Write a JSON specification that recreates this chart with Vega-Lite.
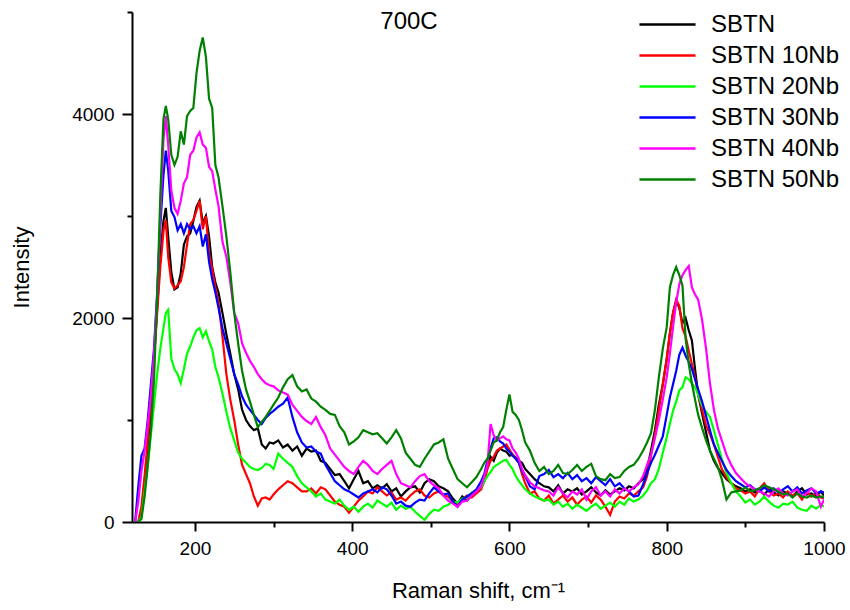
{
"$schema":"https://vega.github.io/schema/vega-lite/v6.json",
"width":692,"height":510,
"autosize":{"type":"none"},
"padding":{"left":132,"top":12,"right":26,"bottom":88},
"background":"white",
"title":{"text":"700C","font":"Liberation Sans","fontSize":24,"fontWeight":"normal","color":"black","anchor":"middle","frame":"group","offset":-31,"dx":-69},
"data":{"values":[
{"x":124,"SBTN":0,"SBTN 10Nb":0,"SBTN 20Nb":0,"SBTN 30Nb":0,"SBTN 40Nb":0,"SBTN 50Nb":0},
{"x":128,"SBTN":0,"SBTN 10Nb":0,"SBTN 20Nb":0,"SBTN 30Nb":350,"SBTN 40Nb":200,"SBTN 50Nb":0},
{"x":132,"SBTN":100,"SBTN 10Nb":150,"SBTN 20Nb":50,"SBTN 30Nb":650,"SBTN 40Nb":500,"SBTN 50Nb":30},
{"x":136,"SBTN":400,"SBTN 10Nb":450,"SBTN 20Nb":300,"SBTN 30Nb":720,"SBTN 40Nb":700,"SBTN 50Nb":250},
{"x":140,"SBTN":700,"SBTN 10Nb":800,"SBTN 20Nb":550,"SBTN 30Nb":1000,"SBTN 40Nb":950,"SBTN 50Nb":550},
{"x":144,"SBTN":1100,"SBTN 10Nb":1200,"SBTN 20Nb":850,"SBTN 30Nb":1350,"SBTN 40Nb":1250,"SBTN 50Nb":900},
{"x":148,"SBTN":1600,"SBTN 10Nb":1600,"SBTN 20Nb":1150,"SBTN 30Nb":1700,"SBTN 40Nb":1650,"SBTN 50Nb":1400},
{"x":152,"SBTN":2100,"SBTN 10Nb":2050,"SBTN 20Nb":1450,"SBTN 30Nb":2250,"SBTN 40Nb":2200,"SBTN 50Nb":2200},
{"x":156,"SBTN":2600,"SBTN 10Nb":2500,"SBTN 20Nb":1700,"SBTN 30Nb":2900,"SBTN 40Nb":3000,"SBTN 50Nb":3200},
{"x":160,"SBTN":2950,"SBTN 10Nb":2850,"SBTN 20Nb":1900,"SBTN 30Nb":3400,"SBTN 40Nb":3750,"SBTN 50Nb":3950},
{"x":163,"SBTN":3080,"SBTN 10Nb":2960,"SBTN 20Nb":2050,"SBTN 30Nb":3640,"SBTN 40Nb":3980,"SBTN 50Nb":4080},
{"x":166,"SBTN":2800,"SBTN 10Nb":2600,"SBTN 20Nb":2080,"SBTN 30Nb":3450,"SBTN 40Nb":3700,"SBTN 50Nb":3950},
{"x":170,"SBTN":2450,"SBTN 10Nb":2350,"SBTN 20Nb":1600,"SBTN 30Nb":3050,"SBTN 40Nb":3250,"SBTN 50Nb":3600},
{"x":174,"SBTN":2280,"SBTN 10Nb":2290,"SBTN 20Nb":1500,"SBTN 30Nb":2990,"SBTN 40Nb":3080,"SBTN 50Nb":3500},
{"x":178,"SBTN":2300,"SBTN 10Nb":2320,"SBTN 20Nb":1450,"SBTN 30Nb":2860,"SBTN 40Nb":3020,"SBTN 50Nb":3580},
{"x":182,"SBTN":2440,"SBTN 10Nb":2360,"SBTN 20Nb":1360,"SBTN 30Nb":2920,"SBTN 40Nb":3150,"SBTN 50Nb":3830},
{"x":186,"SBTN":2720,"SBTN 10Nb":2500,"SBTN 20Nb":1500,"SBTN 30Nb":2830,"SBTN 40Nb":3320,"SBTN 50Nb":3700},
{"x":190,"SBTN":2800,"SBTN 10Nb":2720,"SBTN 20Nb":1650,"SBTN 30Nb":2920,"SBTN 40Nb":3380,"SBTN 50Nb":3980},
{"x":194,"SBTN":2830,"SBTN 10Nb":2920,"SBTN 20Nb":1720,"SBTN 30Nb":2870,"SBTN 40Nb":3600,"SBTN 50Nb":4030},
{"x":198,"SBTN":2950,"SBTN 10Nb":2960,"SBTN 20Nb":1810,"SBTN 30Nb":2900,"SBTN 40Nb":3640,"SBTN 50Nb":4060},
{"x":202,"SBTN":3090,"SBTN 10Nb":3050,"SBTN 20Nb":1880,"SBTN 30Nb":2830,"SBTN 40Nb":3770,"SBTN 50Nb":4400},
{"x":206,"SBTN":3150,"SBTN 10Nb":3150,"SBTN 20Nb":1900,"SBTN 30Nb":2900,"SBTN 40Nb":3820,"SBTN 50Nb":4620},
{"x":210,"SBTN":2930,"SBTN 10Nb":2870,"SBTN 20Nb":1810,"SBTN 30Nb":2700,"SBTN 40Nb":3700,"SBTN 50Nb":4750},
{"x":214,"SBTN":3000,"SBTN 10Nb":3000,"SBTN 20Nb":1870,"SBTN 30Nb":2820,"SBTN 40Nb":3670,"SBTN 50Nb":4560},
{"x":218,"SBTN":2800,"SBTN 10Nb":2630,"SBTN 20Nb":1770,"SBTN 30Nb":2550,"SBTN 40Nb":3480,"SBTN 50Nb":4150},
{"x":222,"SBTN":2500,"SBTN 10Nb":2480,"SBTN 20Nb":1690,"SBTN 30Nb":2380,"SBTN 40Nb":3440,"SBTN 50Nb":4060},
{"x":226,"SBTN":2350,"SBTN 10Nb":2300,"SBTN 20Nb":1520,"SBTN 30Nb":2250,"SBTN 40Nb":3260,"SBTN 50Nb":3500},
{"x":230,"SBTN":2250,"SBTN 10Nb":2150,"SBTN 20Nb":1420,"SBTN 30Nb":2100,"SBTN 40Nb":3100,"SBTN 50Nb":3380},
{"x":235,"SBTN":2050,"SBTN 10Nb":1820,"SBTN 20Nb":1260,"SBTN 30Nb":1900,"SBTN 40Nb":2750,"SBTN 50Nb":3100},
{"x":240,"SBTN":1840,"SBTN 10Nb":1450,"SBTN 20Nb":1080,"SBTN 30Nb":1750,"SBTN 40Nb":2600,"SBTN 50Nb":2800},
{"x":245,"SBTN":1650,"SBTN 10Nb":1200,"SBTN 20Nb":920,"SBTN 30Nb":1600,"SBTN 40Nb":2350,"SBTN 50Nb":2450},
{"x":250,"SBTN":1450,"SBTN 10Nb":1000,"SBTN 20Nb":800,"SBTN 30Nb":1450,"SBTN 40Nb":2050,"SBTN 50Nb":2050},
{"x":255,"SBTN":1300,"SBTN 10Nb":760,"SBTN 20Nb":680,"SBTN 30Nb":1350,"SBTN 40Nb":1950,"SBTN 50Nb":1750},
{"x":260,"SBTN":1100,"SBTN 10Nb":560,"SBTN 20Nb":620,"SBTN 30Nb":1230,"SBTN 40Nb":1750,"SBTN 50Nb":1480},
{"x":265,"SBTN":1000,"SBTN 10Nb":470,"SBTN 20Nb":580,"SBTN 30Nb":1150,"SBTN 40Nb":1660,"SBTN 50Nb":1300},
{"x":270,"SBTN":940,"SBTN 10Nb":380,"SBTN 20Nb":540,"SBTN 30Nb":1100,"SBTN 40Nb":1580,"SBTN 50Nb":1180},
{"x":275,"SBTN":900,"SBTN 10Nb":250,"SBTN 20Nb":520,"SBTN 30Nb":1050,"SBTN 40Nb":1520,"SBTN 50Nb":1050},
{"x":280,"SBTN":920,"SBTN 10Nb":160,"SBTN 20Nb":510,"SBTN 30Nb":1000,"SBTN 40Nb":1450,"SBTN 50Nb":930},
{"x":285,"SBTN":760,"SBTN 10Nb":230,"SBTN 20Nb":530,"SBTN 30Nb":960,"SBTN 40Nb":1400,"SBTN 50Nb":980},
{"x":290,"SBTN":720,"SBTN 10Nb":240,"SBTN 20Nb":570,"SBTN 30Nb":1020,"SBTN 40Nb":1360,"SBTN 50Nb":1030},
{"x":295,"SBTN":780,"SBTN 10Nb":220,"SBTN 20Nb":560,"SBTN 30Nb":1060,"SBTN 40Nb":1340,"SBTN 50Nb":1090},
{"x":300,"SBTN":770,"SBTN 10Nb":270,"SBTN 20Nb":520,"SBTN 30Nb":1090,"SBTN 40Nb":1330,"SBTN 50Nb":1150},
{"x":306,"SBTN":800,"SBTN 10Nb":320,"SBTN 20Nb":670,"SBTN 30Nb":1130,"SBTN 40Nb":1290,"SBTN 50Nb":1220},
{"x":312,"SBTN":730,"SBTN 10Nb":360,"SBTN 20Nb":620,"SBTN 30Nb":1160,"SBTN 40Nb":1270,"SBTN 50Nb":1320},
{"x":318,"SBTN":760,"SBTN 10Nb":400,"SBTN 20Nb":580,"SBTN 30Nb":1220,"SBTN 40Nb":1250,"SBTN 50Nb":1400},
{"x":324,"SBTN":700,"SBTN 10Nb":380,"SBTN 20Nb":540,"SBTN 30Nb":1030,"SBTN 40Nb":1150,"SBTN 50Nb":1440},
{"x":330,"SBTN":740,"SBTN 10Nb":340,"SBTN 20Nb":450,"SBTN 30Nb":880,"SBTN 40Nb":1090,"SBTN 50Nb":1330},
{"x":336,"SBTN":650,"SBTN 10Nb":300,"SBTN 20Nb":380,"SBTN 30Nb":780,"SBTN 40Nb":1030,"SBTN 50Nb":1280},
{"x":342,"SBTN":720,"SBTN 10Nb":300,"SBTN 20Nb":340,"SBTN 30Nb":730,"SBTN 40Nb":990,"SBTN 50Nb":1300},
{"x":348,"SBTN":690,"SBTN 10Nb":330,"SBTN 20Nb":300,"SBTN 30Nb":740,"SBTN 40Nb":960,"SBTN 50Nb":1210},
{"x":354,"SBTN":700,"SBTN 10Nb":280,"SBTN 20Nb":250,"SBTN 30Nb":690,"SBTN 40Nb":1030,"SBTN 50Nb":1180},
{"x":360,"SBTN":600,"SBTN 10Nb":340,"SBTN 20Nb":280,"SBTN 30Nb":670,"SBTN 40Nb":930,"SBTN 50Nb":1130},
{"x":366,"SBTN":580,"SBTN 10Nb":320,"SBTN 20Nb":220,"SBTN 30Nb":560,"SBTN 40Nb":850,"SBTN 50Nb":1100},
{"x":372,"SBTN":520,"SBTN 10Nb":260,"SBTN 20Nb":200,"SBTN 30Nb":480,"SBTN 40Nb":720,"SBTN 50Nb":1060},
{"x":378,"SBTN":460,"SBTN 10Nb":200,"SBTN 20Nb":180,"SBTN 30Nb":400,"SBTN 40Nb":660,"SBTN 50Nb":1050},
{"x":384,"SBTN":470,"SBTN 10Nb":170,"SBTN 20Nb":220,"SBTN 30Nb":360,"SBTN 40Nb":600,"SBTN 50Nb":940},
{"x":390,"SBTN":400,"SBTN 10Nb":150,"SBTN 20Nb":160,"SBTN 30Nb":320,"SBTN 40Nb":540,"SBTN 50Nb":880},
{"x":396,"SBTN":330,"SBTN 10Nb":90,"SBTN 20Nb":120,"SBTN 30Nb":300,"SBTN 40Nb":500,"SBTN 50Nb":760},
{"x":402,"SBTN":420,"SBTN 10Nb":150,"SBTN 20Nb":150,"SBTN 30Nb":270,"SBTN 40Nb":470,"SBTN 50Nb":790},
{"x":408,"SBTN":500,"SBTN 10Nb":210,"SBTN 20Nb":100,"SBTN 30Nb":240,"SBTN 40Nb":540,"SBTN 50Nb":830},
{"x":414,"SBTN":380,"SBTN 10Nb":250,"SBTN 20Nb":150,"SBTN 30Nb":280,"SBTN 40Nb":600,"SBTN 50Nb":900},
{"x":420,"SBTN":400,"SBTN 10Nb":300,"SBTN 20Nb":180,"SBTN 30Nb":300,"SBTN 40Nb":560,"SBTN 50Nb":880},
{"x":426,"SBTN":330,"SBTN 10Nb":280,"SBTN 20Nb":140,"SBTN 30Nb":320,"SBTN 40Nb":500,"SBTN 50Nb":860},
{"x":432,"SBTN":360,"SBTN 10Nb":340,"SBTN 20Nb":210,"SBTN 30Nb":290,"SBTN 40Nb":470,"SBTN 50Nb":870},
{"x":438,"SBTN":330,"SBTN 10Nb":300,"SBTN 20Nb":180,"SBTN 30Nb":340,"SBTN 40Nb":520,"SBTN 50Nb":820},
{"x":444,"SBTN":370,"SBTN 10Nb":260,"SBTN 20Nb":150,"SBTN 30Nb":320,"SBTN 40Nb":560,"SBTN 50Nb":770},
{"x":450,"SBTN":300,"SBTN 10Nb":290,"SBTN 20Nb":190,"SBTN 30Nb":260,"SBTN 40Nb":600,"SBTN 50Nb":830},
{"x":456,"SBTN":330,"SBTN 10Nb":220,"SBTN 20Nb":120,"SBTN 30Nb":180,"SBTN 40Nb":470,"SBTN 50Nb":900},
{"x":462,"SBTN":250,"SBTN 10Nb":240,"SBTN 20Nb":160,"SBTN 30Nb":200,"SBTN 40Nb":380,"SBTN 50Nb":820},
{"x":468,"SBTN":300,"SBTN 10Nb":210,"SBTN 20Nb":130,"SBTN 30Nb":160,"SBTN 40Nb":360,"SBTN 50Nb":680},
{"x":474,"SBTN":340,"SBTN 10Nb":260,"SBTN 20Nb":150,"SBTN 30Nb":150,"SBTN 40Nb":340,"SBTN 50Nb":620},
{"x":480,"SBTN":350,"SBTN 10Nb":300,"SBTN 20Nb":100,"SBTN 30Nb":190,"SBTN 40Nb":400,"SBTN 50Nb":560},
{"x":486,"SBTN":290,"SBTN 10Nb":320,"SBTN 20Nb":60,"SBTN 30Nb":220,"SBTN 40Nb":450,"SBTN 50Nb":540},
{"x":492,"SBTN":380,"SBTN 10Nb":260,"SBTN 20Nb":20,"SBTN 30Nb":210,"SBTN 40Nb":470,"SBTN 50Nb":620},
{"x":498,"SBTN":420,"SBTN 10Nb":240,"SBTN 20Nb":80,"SBTN 30Nb":280,"SBTN 40Nb":400,"SBTN 50Nb":690},
{"x":504,"SBTN":400,"SBTN 10Nb":280,"SBTN 20Nb":120,"SBTN 30Nb":340,"SBTN 40Nb":360,"SBTN 50Nb":760},
{"x":510,"SBTN":350,"SBTN 10Nb":300,"SBTN 20Nb":110,"SBTN 30Nb":300,"SBTN 40Nb":330,"SBTN 50Nb":780},
{"x":516,"SBTN":330,"SBTN 10Nb":260,"SBTN 20Nb":150,"SBTN 30Nb":270,"SBTN 40Nb":260,"SBTN 50Nb":810},
{"x":522,"SBTN":300,"SBTN 10Nb":250,"SBTN 20Nb":170,"SBTN 30Nb":280,"SBTN 40Nb":210,"SBTN 50Nb":620},
{"x":528,"SBTN":230,"SBTN 10Nb":200,"SBTN 20Nb":200,"SBTN 30Nb":200,"SBTN 40Nb":180,"SBTN 50Nb":520},
{"x":534,"SBTN":180,"SBTN 10Nb":170,"SBTN 20Nb":190,"SBTN 30Nb":150,"SBTN 40Nb":150,"SBTN 50Nb":420},
{"x":540,"SBTN":250,"SBTN 10Nb":220,"SBTN 20Nb":230,"SBTN 30Nb":220,"SBTN 40Nb":200,"SBTN 50Nb":380},
{"x":546,"SBTN":210,"SBTN 10Nb":260,"SBTN 20Nb":240,"SBTN 30Nb":250,"SBTN 40Nb":210,"SBTN 50Nb":340},
{"x":552,"SBTN":260,"SBTN 10Nb":240,"SBTN 20Nb":290,"SBTN 30Nb":280,"SBTN 40Nb":260,"SBTN 50Nb":390},
{"x":558,"SBTN":300,"SBTN 10Nb":280,"SBTN 20Nb":310,"SBTN 30Nb":320,"SBTN 40Nb":300,"SBTN 50Nb":440},
{"x":564,"SBTN":340,"SBTN 10Nb":320,"SBTN 20Nb":340,"SBTN 30Nb":400,"SBTN 40Nb":350,"SBTN 50Nb":520},
{"x":568,"SBTN":400,"SBTN 10Nb":400,"SBTN 20Nb":400,"SBTN 30Nb":470,"SBTN 40Nb":450,"SBTN 50Nb":580},
{"x":572,"SBTN":560,"SBTN 10Nb":520,"SBTN 20Nb":450,"SBTN 30Nb":600,"SBTN 40Nb":560,"SBTN 50Nb":620},
{"x":576,"SBTN":640,"SBTN 10Nb":600,"SBTN 20Nb":490,"SBTN 30Nb":720,"SBTN 40Nb":960,"SBTN 50Nb":700},
{"x":580,"SBTN":600,"SBTN 10Nb":640,"SBTN 20Nb":540,"SBTN 30Nb":820,"SBTN 40Nb":850,"SBTN 50Nb":780},
{"x":584,"SBTN":680,"SBTN 10Nb":700,"SBTN 20Nb":560,"SBTN 30Nb":830,"SBTN 40Nb":800,"SBTN 50Nb":800},
{"x":588,"SBTN":720,"SBTN 10Nb":720,"SBTN 20Nb":580,"SBTN 30Nb":790,"SBTN 40Nb":820,"SBTN 50Nb":880},
{"x":592,"SBTN":700,"SBTN 10Nb":740,"SBTN 20Nb":600,"SBTN 30Nb":770,"SBTN 40Nb":840,"SBTN 50Nb":930},
{"x":596,"SBTN":690,"SBTN 10Nb":760,"SBTN 20Nb":610,"SBTN 30Nb":720,"SBTN 40Nb":810,"SBTN 50Nb":1100},
{"x":600,"SBTN":650,"SBTN 10Nb":710,"SBTN 20Nb":560,"SBTN 30Nb":690,"SBTN 40Nb":800,"SBTN 50Nb":1250},
{"x":604,"SBTN":660,"SBTN 10Nb":660,"SBTN 20Nb":520,"SBTN 30Nb":650,"SBTN 40Nb":720,"SBTN 50Nb":1080},
{"x":608,"SBTN":630,"SBTN 10Nb":620,"SBTN 20Nb":450,"SBTN 30Nb":620,"SBTN 40Nb":680,"SBTN 50Nb":1050},
{"x":612,"SBTN":600,"SBTN 10Nb":580,"SBTN 20Nb":400,"SBTN 30Nb":580,"SBTN 40Nb":620,"SBTN 50Nb":1000},
{"x":616,"SBTN":580,"SBTN 10Nb":470,"SBTN 20Nb":360,"SBTN 30Nb":500,"SBTN 40Nb":520,"SBTN 50Nb":900},
{"x":620,"SBTN":520,"SBTN 10Nb":380,"SBTN 20Nb":320,"SBTN 30Nb":450,"SBTN 40Nb":460,"SBTN 50Nb":780},
{"x":626,"SBTN":470,"SBTN 10Nb":280,"SBTN 20Nb":280,"SBTN 30Nb":350,"SBTN 40Nb":390,"SBTN 50Nb":700},
{"x":632,"SBTN":420,"SBTN 10Nb":300,"SBTN 20Nb":250,"SBTN 30Nb":320,"SBTN 40Nb":350,"SBTN 50Nb":580},
{"x":638,"SBTN":380,"SBTN 10Nb":230,"SBTN 20Nb":230,"SBTN 30Nb":450,"SBTN 40Nb":330,"SBTN 50Nb":500},
{"x":644,"SBTN":350,"SBTN 10Nb":210,"SBTN 20Nb":210,"SBTN 30Nb":470,"SBTN 40Nb":310,"SBTN 50Nb":540},
{"x":650,"SBTN":340,"SBTN 10Nb":260,"SBTN 20Nb":220,"SBTN 30Nb":510,"SBTN 40Nb":300,"SBTN 50Nb":470},
{"x":656,"SBTN":300,"SBTN 10Nb":180,"SBTN 20Nb":170,"SBTN 30Nb":440,"SBTN 40Nb":260,"SBTN 50Nb":500},
{"x":662,"SBTN":360,"SBTN 10Nb":220,"SBTN 20Nb":200,"SBTN 30Nb":470,"SBTN 40Nb":340,"SBTN 50Nb":560},
{"x":668,"SBTN":280,"SBTN 10Nb":260,"SBTN 20Nb":150,"SBTN 30Nb":430,"SBTN 40Nb":280,"SBTN 50Nb":480},
{"x":674,"SBTN":320,"SBTN 10Nb":200,"SBTN 20Nb":180,"SBTN 30Nb":480,"SBTN 40Nb":240,"SBTN 50Nb":470},
{"x":680,"SBTN":300,"SBTN 10Nb":240,"SBTN 20Nb":130,"SBTN 30Nb":420,"SBTN 40Nb":300,"SBTN 50Nb":510},
{"x":686,"SBTN":330,"SBTN 10Nb":170,"SBTN 20Nb":170,"SBTN 30Nb":460,"SBTN 40Nb":270,"SBTN 50Nb":560},
{"x":692,"SBTN":270,"SBTN 10Nb":220,"SBTN 20Nb":140,"SBTN 30Nb":400,"SBTN 40Nb":320,"SBTN 50Nb":500},
{"x":698,"SBTN":300,"SBTN 10Nb":250,"SBTN 20Nb":110,"SBTN 30Nb":430,"SBTN 40Nb":220,"SBTN 50Nb":540},
{"x":704,"SBTN":340,"SBTN 10Nb":190,"SBTN 20Nb":150,"SBTN 30Nb":380,"SBTN 40Nb":300,"SBTN 50Nb":570},
{"x":710,"SBTN":290,"SBTN 10Nb":260,"SBTN 20Nb":180,"SBTN 30Nb":440,"SBTN 40Nb":340,"SBTN 50Nb":450},
{"x":716,"SBTN":260,"SBTN 10Nb":220,"SBTN 20Nb":130,"SBTN 30Nb":400,"SBTN 40Nb":260,"SBTN 50Nb":420},
{"x":722,"SBTN":310,"SBTN 10Nb":150,"SBTN 20Nb":160,"SBTN 30Nb":360,"SBTN 40Nb":300,"SBTN 50Nb":410},
{"x":728,"SBTN":270,"SBTN 10Nb":70,"SBTN 20Nb":190,"SBTN 30Nb":420,"SBTN 40Nb":250,"SBTN 50Nb":470},
{"x":734,"SBTN":300,"SBTN 10Nb":200,"SBTN 20Nb":150,"SBTN 30Nb":350,"SBTN 40Nb":320,"SBTN 50Nb":430},
{"x":740,"SBTN":330,"SBTN 10Nb":250,"SBTN 20Nb":200,"SBTN 30Nb":380,"SBTN 40Nb":280,"SBTN 50Nb":440},
{"x":746,"SBTN":310,"SBTN 10Nb":230,"SBTN 20Nb":170,"SBTN 30Nb":330,"SBTN 40Nb":330,"SBTN 50Nb":500},
{"x":752,"SBTN":350,"SBTN 10Nb":280,"SBTN 20Nb":230,"SBTN 30Nb":300,"SBTN 40Nb":300,"SBTN 50Nb":540},
{"x":758,"SBTN":330,"SBTN 10Nb":260,"SBTN 20Nb":200,"SBTN 30Nb":250,"SBTN 40Nb":340,"SBTN 50Nb":560},
{"x":764,"SBTN":380,"SBTN 10Nb":300,"SBTN 20Nb":220,"SBTN 30Nb":260,"SBTN 40Nb":370,"SBTN 50Nb":620},
{"x":770,"SBTN":420,"SBTN 10Nb":340,"SBTN 20Nb":260,"SBTN 30Nb":370,"SBTN 40Nb":450,"SBTN 50Nb":700},
{"x":775,"SBTN":520,"SBTN 10Nb":450,"SBTN 20Nb":310,"SBTN 30Nb":480,"SBTN 40Nb":560,"SBTN 50Nb":780},
{"x":780,"SBTN":700,"SBTN 10Nb":650,"SBTN 20Nb":380,"SBTN 30Nb":580,"SBTN 40Nb":660,"SBTN 50Nb":870},
{"x":785,"SBTN":900,"SBTN 10Nb":850,"SBTN 20Nb":420,"SBTN 30Nb":660,"SBTN 40Nb":820,"SBTN 50Nb":1100},
{"x":790,"SBTN":1150,"SBTN 10Nb":1100,"SBTN 20Nb":520,"SBTN 30Nb":750,"SBTN 40Nb":1000,"SBTN 50Nb":1420},
{"x":795,"SBTN":1350,"SBTN 10Nb":1350,"SBTN 20Nb":680,"SBTN 30Nb":840,"SBTN 40Nb":1200,"SBTN 50Nb":1700},
{"x":800,"SBTN":1600,"SBTN 10Nb":1600,"SBTN 20Nb":830,"SBTN 30Nb":1050,"SBTN 40Nb":1420,"SBTN 50Nb":1910},
{"x":804,"SBTN":1850,"SBTN 10Nb":1850,"SBTN 20Nb":960,"SBTN 30Nb":1220,"SBTN 40Nb":1650,"SBTN 50Nb":2300},
{"x":808,"SBTN":2050,"SBTN 10Nb":2050,"SBTN 20Nb":1090,"SBTN 30Nb":1350,"SBTN 40Nb":1910,"SBTN 50Nb":2420},
{"x":812,"SBTN":2170,"SBTN 10Nb":2180,"SBTN 20Nb":1180,"SBTN 30Nb":1480,"SBTN 40Nb":2150,"SBTN 50Nb":2500},
{"x":816,"SBTN":2100,"SBTN 10Nb":2120,"SBTN 20Nb":1290,"SBTN 30Nb":1640,"SBTN 40Nb":2330,"SBTN 50Nb":2420},
{"x":820,"SBTN":1950,"SBTN 10Nb":1900,"SBTN 20Nb":1320,"SBTN 30Nb":1710,"SBTN 40Nb":2420,"SBTN 50Nb":2320},
{"x":824,"SBTN":2000,"SBTN 10Nb":1820,"SBTN 20Nb":1420,"SBTN 30Nb":1630,"SBTN 40Nb":2470,"SBTN 50Nb":1800},
{"x":828,"SBTN":1880,"SBTN 10Nb":1680,"SBTN 20Nb":1400,"SBTN 30Nb":1570,"SBTN 40Nb":2510,"SBTN 50Nb":1550},
{"x":832,"SBTN":1780,"SBTN 10Nb":1550,"SBTN 20Nb":1360,"SBTN 30Nb":1500,"SBTN 40Nb":2300,"SBTN 50Nb":1360},
{"x":836,"SBTN":1500,"SBTN 10Nb":1420,"SBTN 20Nb":1320,"SBTN 30Nb":1400,"SBTN 40Nb":2230,"SBTN 50Nb":1200},
{"x":840,"SBTN":1250,"SBTN 10Nb":1250,"SBTN 20Nb":1250,"SBTN 30Nb":1300,"SBTN 40Nb":2180,"SBTN 50Nb":1050},
{"x":845,"SBTN":1060,"SBTN 10Nb":1100,"SBTN 20Nb":1140,"SBTN 30Nb":1180,"SBTN 40Nb":1980,"SBTN 50Nb":920},
{"x":850,"SBTN":880,"SBTN 10Nb":950,"SBTN 20Nb":1080,"SBTN 30Nb":1040,"SBTN 40Nb":1700,"SBTN 50Nb":800},
{"x":855,"SBTN":700,"SBTN 10Nb":860,"SBTN 20Nb":1030,"SBTN 30Nb":900,"SBTN 40Nb":1360,"SBTN 50Nb":700},
{"x":860,"SBTN":600,"SBTN 10Nb":760,"SBTN 20Nb":900,"SBTN 30Nb":760,"SBTN 40Nb":1100,"SBTN 50Nb":620},
{"x":865,"SBTN":530,"SBTN 10Nb":640,"SBTN 20Nb":760,"SBTN 30Nb":680,"SBTN 40Nb":920,"SBTN 50Nb":540},
{"x":870,"SBTN":480,"SBTN 10Nb":520,"SBTN 20Nb":620,"SBTN 30Nb":600,"SBTN 40Nb":800,"SBTN 50Nb":420},
{"x":876,"SBTN":420,"SBTN 10Nb":440,"SBTN 20Nb":480,"SBTN 30Nb":510,"SBTN 40Nb":660,"SBTN 50Nb":220},
{"x":882,"SBTN":380,"SBTN 10Nb":380,"SBTN 20Nb":380,"SBTN 30Nb":450,"SBTN 40Nb":560,"SBTN 50Nb":290},
{"x":888,"SBTN":350,"SBTN 10Nb":330,"SBTN 20Nb":300,"SBTN 30Nb":400,"SBTN 40Nb":480,"SBTN 50Nb":300},
{"x":894,"SBTN":330,"SBTN 10Nb":310,"SBTN 20Nb":250,"SBTN 30Nb":370,"SBTN 40Nb":430,"SBTN 50Nb":310},
{"x":900,"SBTN":300,"SBTN 10Nb":280,"SBTN 20Nb":190,"SBTN 30Nb":340,"SBTN 40Nb":380,"SBTN 50Nb":340},
{"x":906,"SBTN":320,"SBTN 10Nb":300,"SBTN 20Nb":220,"SBTN 30Nb":360,"SBTN 40Nb":350,"SBTN 50Nb":300},
{"x":912,"SBTN":290,"SBTN 10Nb":250,"SBTN 20Nb":170,"SBTN 30Nb":320,"SBTN 40Nb":320,"SBTN 50Nb":310},
{"x":918,"SBTN":310,"SBTN 10Nb":330,"SBTN 20Nb":200,"SBTN 30Nb":300,"SBTN 40Nb":300,"SBTN 50Nb":330},
{"x":924,"SBTN":270,"SBTN 10Nb":380,"SBTN 20Nb":250,"SBTN 30Nb":340,"SBTN 40Nb":280,"SBTN 50Nb":360},
{"x":930,"SBTN":320,"SBTN 10Nb":300,"SBTN 20Nb":200,"SBTN 30Nb":300,"SBTN 40Nb":250,"SBTN 50Nb":340},
{"x":936,"SBTN":290,"SBTN 10Nb":260,"SBTN 20Nb":160,"SBTN 30Nb":330,"SBTN 40Nb":300,"SBTN 50Nb":320},
{"x":942,"SBTN":260,"SBTN 10Nb":280,"SBTN 20Nb":140,"SBTN 30Nb":290,"SBTN 40Nb":330,"SBTN 50Nb":300},
{"x":948,"SBTN":300,"SBTN 10Nb":240,"SBTN 20Nb":180,"SBTN 30Nb":320,"SBTN 40Nb":280,"SBTN 50Nb":270},
{"x":954,"SBTN":280,"SBTN 10Nb":300,"SBTN 20Nb":170,"SBTN 30Nb":350,"SBTN 40Nb":260,"SBTN 50Nb":280},
{"x":960,"SBTN":250,"SBTN 10Nb":260,"SBTN 20Nb":200,"SBTN 30Nb":300,"SBTN 40Nb":300,"SBTN 50Nb":240},
{"x":966,"SBTN":300,"SBTN 10Nb":280,"SBTN 20Nb":140,"SBTN 30Nb":340,"SBTN 40Nb":320,"SBTN 50Nb":280},
{"x":972,"SBTN":330,"SBTN 10Nb":220,"SBTN 20Nb":120,"SBTN 30Nb":280,"SBTN 40Nb":250,"SBTN 50Nb":250},
{"x":978,"SBTN":270,"SBTN 10Nb":300,"SBTN 20Nb":110,"SBTN 30Nb":310,"SBTN 40Nb":280,"SBTN 50Nb":240},
{"x":984,"SBTN":280,"SBTN 10Nb":250,"SBTN 20Nb":160,"SBTN 30Nb":330,"SBTN 40Nb":330,"SBTN 50Nb":260},
{"x":990,"SBTN":250,"SBTN 10Nb":280,"SBTN 20Nb":130,"SBTN 30Nb":280,"SBTN 40Nb":300,"SBTN 50Nb":240},
{"x":996,"SBTN":300,"SBTN 10Nb":240,"SBTN 20Nb":170,"SBTN 30Nb":300,"SBTN 40Nb":150,"SBTN 50Nb":250},
{"x":1000,"SBTN":260,"SBTN 10Nb":230,"SBTN 20Nb":150,"SBTN 30Nb":290,"SBTN 40Nb":220,"SBTN 50Nb":240}
]},
"transform":[{"fold":["SBTN","SBTN 10Nb","SBTN 20Nb","SBTN 30Nb","SBTN 40Nb","SBTN 50Nb"],"as":["series","intensity"]}],
"mark":{"type":"line","strokeWidth":2.2,"clip":true},
"encoding":{
"x":{"field":"x","type":"quantitative","scale":{"domain":[120,1000],"nice":false,"zero":false},
"axis":{"title":"Raman shift, cm⁻¹","values":[200,300,400,500,600,700,800,900,1000],"format":"d","labelExpr":"datum.value % 200 === 0 ? datum.label : ''","tickSize":{"condition":{"test":"datum.value % 200 === 0","value":9},"value":5},"labelPadding":8,"titlePadding":22,"labelFlush":false,"labelOverlap":false}},
"y":{"field":"intensity","type":"quantitative","scale":{"domain":[0,5000],"nice":false},
"axis":{"title":"Intensity","values":[0,1000,2000,3000,4000,5000],"format":"d","labelExpr":"datum.value % 2000 === 0 && datum.value < 5000 ? datum.label : ''","tickSize":{"condition":{"test":"datum.value % 2000 === 0","value":10},"value":5},"labelPadding":8,"titlePadding":38,"labelFlush":false,"labelOverlap":false}},
"color":{"field":"series","type":"nominal","scale":{"domain":["SBTN","SBTN 10Nb","SBTN 20Nb","SBTN 30Nb","SBTN 40Nb","SBTN 50Nb"],"range":["#000000","#ff0000","#00ff00","#0000ff","#ff00ff","#008000"]},
"legend":{"title":null,"orient":"none","legendX":517,"legendY":-6,"symbolType":"M-1.65,0H1.65","symbolSize":1156,"symbolStrokeWidth":2.5,"labelFontSize":24,"labelFont":"Liberation Sans","labelColor":"black","labelOffset":25,"rowPadding":0,"padding":0,"labelLimit":300}}
},
"config":{
"view":{"stroke":null},
"axis":{"grid":false,"domainColor":"black","domainWidth":2,"tickColor":"black","tickWidth":2,"labelFont":"Liberation Sans","labelFontSize":19,"labelColor":"black","titleFont":"Liberation Sans","titleFontSize":22,"titleFontWeight":"normal","titleColor":"black"}
}
}
